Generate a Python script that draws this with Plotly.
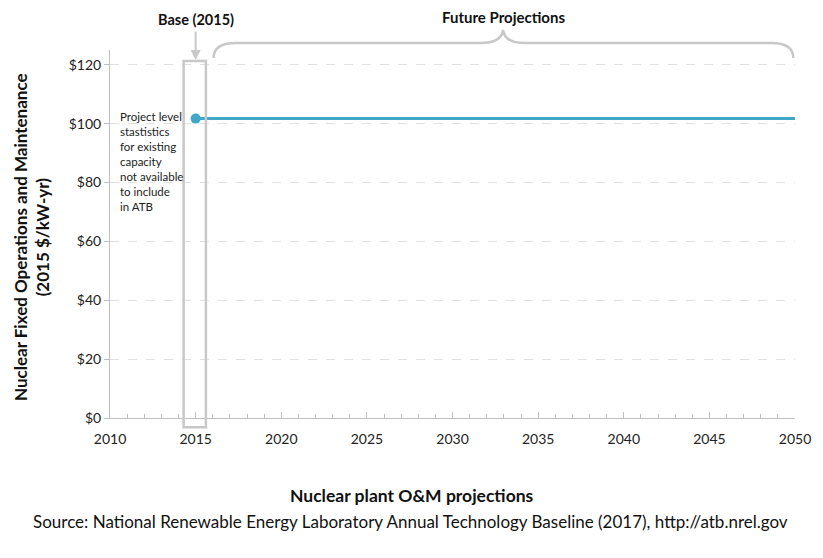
import plotly.graph_objects as go

years = list(range(2015, 2051))
fixed_om = [101.7] * len(years)
base_year = [2015]
base_value = [101.7]

x_ticks = [2010, 2015, 2020, 2025, 2030, 2035, 2040, 2045, 2050]
y_ticks = [0, 20, 40, 60, 80, 100, 120]
y_labels = ["$0", "$20", "$40", "$60", "$80", "$100", "$120"]

blue = "#41A7C9"
grey = "#C8C8C8"
font = "Lato"

fig = go.Figure()
fig.add_trace(go.Scatter(x=years, y=fixed_om, mode="lines",
                         line=dict(color=blue, width=3), showlegend=False))
fig.add_trace(go.Scatter(x=base_year, y=base_value, mode="markers",
                         marker=dict(color=blue, size=10), showlegend=False))

# box around the base year
fig.add_shape(type="rect", xref="x", yref="paper", x0=2014.3, x1=2015.6,
              y0=-0.025, y1=0.97, line=dict(color=grey, width=2.5))


def py(px):
    # screen pixel row -> paper fraction (plot area spans rows 50..418)
    return (418 - px) / 368.0


def pxx(px):
    # screen pixel column -> paper fraction (plot area spans cols 110..795)
    return (px - 110) / 685.0


# brace over the projection years
b0, b1, b2 = py(58), py(43), py(30)
xl, xm, xr = 2016.05, 2032.95, 2049.9
brace = (f"M {xl},{b0} Q {xl},{b1} {xl+1.3},{b1} "
         f"L {xm-1.3},{b1} Q {xm-0.1},{b1} {xm},{b2} "
         f"Q {xm+0.1},{b1} {xm+1.3},{b1} "
         f"L {xr-1.3},{b1} Q {xr},{b1} {xr},{b0}")
fig.add_shape(type="path", xref="x", yref="paper", path=brace,
              line=dict(color=grey, width=2.5))

fig.add_annotation(x=2015, y=py(60), xref="x", yref="paper", text="",
                   showarrow=True, arrowhead=2, arrowsize=1, arrowwidth=2,
                   arrowcolor=grey, ax=0, ay=-30)
fig.add_annotation(x=2015, y=py(20), xref="x", yref="paper", yanchor="middle",
                   text="<b>Base (2015)</b>", showarrow=False,
                   font=dict(family=font, size=14.5, color="#111"))
fig.add_annotation(x=2032.95, y=py(17), xref="x", yref="paper", yanchor="middle",
                   text="<b>Future Projections</b>", showarrow=False,
                   font=dict(family=font, size=15, color="#111"))
fig.add_annotation(x=2010.45, y=py(108), xref="x", yref="paper",
                   xanchor="left", yanchor="top", align="left",
                   text="Project level<br>stastistics<br>for existing<br>capacity<br>not available<br>to include<br>in ATB",
                   showarrow=False,
                   font=dict(family=font, size=11.5, color="#222"))

fig.add_annotation(x=pxx(31), y=py(237), xref="paper", yref="paper", textangle=-90,
                   xanchor="center", yanchor="middle",
                   text="<b>Nuclear Fixed Operations and Maintenance<br>(2015 $/kW-yr)</b>",
                   showarrow=False,
                   font=dict(family=font, size=17, color="#111"))
fig.add_annotation(x=pxx(412), y=py(495), xref="paper", yref="paper",
                   xanchor="center", yanchor="middle",
                   text="<b>Nuclear plant O&M projections</b>", showarrow=False,
                   font=dict(family=font, size=17.5, color="#111"))
fig.add_annotation(x=pxx(410), y=py(521), xref="paper", yref="paper",
                   xanchor="center", yanchor="middle",
                   text="Source: National Renewable Energy Laboratory Annual Technology Baseline (2017), http://atb.nrel.gov",
                   showarrow=False,
                   font=dict(family=font, size=17, color="#111"))

fig.update_xaxes(range=[2010, 2050], tickvals=x_ticks, showgrid=False,
                 showline=True, linecolor="#BFBFBF", linewidth=1,
                 ticks="inside", ticklen=6, tickcolor="#BFBFBF",
                 minor=dict(dtick=1, ticks="inside", ticklen=4, tickcolor="#BFBFBF"),
                 ticklabelstandoff=8, automargin=False,
                 tickfont=dict(family=font, size=14, color="#222"), zeroline=False)
fig.update_yaxes(range=[0, 125], tickvals=y_ticks, ticktext=y_labels,
                 showgrid=True, gridcolor="#E0E0E0", griddash="dash",
                 showline=True, linecolor="#BFBFBF", linewidth=1,
                 ticks="outside", ticklen=5, tickcolor="#BFBFBF", automargin=False,
                 tickfont=dict(family=font, size=14, color="#222"), zeroline=False)

# the page body adds an 8px offset, so the figure is drawn 8px smaller
fig.update_layout(width=815, height=550, plot_bgcolor="white", paper_bgcolor="white",
                  margin=dict(l=102, r=28, t=42, b=140))

fig.write_html("out.html")
